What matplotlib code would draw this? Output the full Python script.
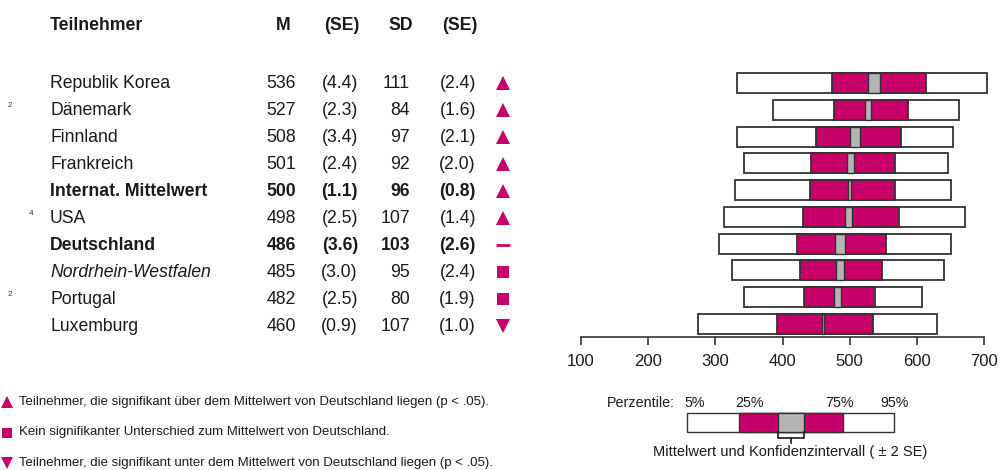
import matplotlib.pyplot as plt
import matplotlib.patches as mpatches
from matplotlib.transforms import blended_transform_factory

plt.rcParams['font.family'] = ['Liberation Sans', 'DejaVu Sans']

countries = ["Republik Korea", "Dänemark", "Finnland", "Frankreich", "Internat. Mittelwert",
             "USA", "Deutschland", "Nordrhein-Westfalen", "Portugal", "Luxemburg"]
footnotes = ["", "2", "", "", "", "4", "", "", "2", ""]
styles = ["normal", "normal", "normal", "normal", "bold", "normal", "bold", "italic", "normal", "normal"]
mean = [536, 527, 508, 501, 500, 498, 486, 485, 482, 460]
se = [4.4, 2.3, 3.4, 2.4, 1.1, 2.5, 3.6, 3.0, 2.5, 0.9]
sd = [111, 84, 97, 92, 96, 107, 103, 95, 80, 107]
sd_se = [2.4, 1.6, 2.1, 2.0, 0.8, 1.4, 2.6, 2.4, 1.9, 1.0]
signif = ["up", "up", "up", "up", "up", "up", "ref", "same", "same", "down"]
p5 = [332, 386, 332, 342, 330, 313, 305, 325, 342, 274]
p25 = [473, 476, 450, 442, 441, 430, 421, 426, 432, 392]
p75 = [613, 587, 576, 567, 567, 574, 554, 548, 537, 534]
p95 = [704, 663, 654, 647, 651, 671, 651, 640, 608, 630]

MAG = "#c8006a"
GREY = "#b4b4b4"
EDGE = "#333333"
TXT = "#1a1a1a"

fig = plt.figure(figsize=(10, 4.7), dpi=100)
ax = fig.add_axes([0.581, 0.283, 0.403, 0.589])

h = 0.75
for i in range(len(countries)):
    ax.barh(i, p95[i] - p5[i], left=p5[i], height=h, color="white", edgecolor=EDGE,
            linewidth=1.3, zorder=2, clip_on=False)
    ax.barh(i, p75[i] - p25[i], left=p25[i], height=h, color=MAG, edgecolor=EDGE,
            linewidth=1.3, zorder=3, clip_on=False)
    lo, hi = mean[i] - 2 * se[i], mean[i] + 2 * se[i]
    ax.barh(i, hi - lo, left=lo, height=h, color=GREY, edgecolor=EDGE, linewidth=1.0,
            zorder=4, clip_on=False)

ax.set_xlim(100, 700)
ax.set_ylim(9.49, -0.86)
ax.set_yticks([])
ax.set_xticks(range(100, 701, 100))
ax.tick_params(axis='x', labelsize=12, length=6, width=1.2, color=EDGE, pad=6, labelcolor=TXT)
for s in ["top", "left", "right"]:
    ax.spines[s].set_visible(False)
ax.spines["bottom"].set_linewidth(1.2)
ax.spines["bottom"].set_color(EDGE)
ax.patch.set_alpha(0)

tr = blended_transform_factory(fig.transFigure, ax.transData)
fs = 12.7
for i, name in enumerate(countries):
    y = i + 0.08 * i / 9
    weight = "bold" if styles[i] == "bold" else "normal"
    style = "italic" if styles[i] == "italic" else "normal"
    kw = dict(transform=tr, fontsize=fs, va="center", weight=weight, style=style, color=TXT)
    fig.text(0.050, y, name, ha="left", **kw)
    kw["style"] = "normal"
    fig.text(0.296, y, str(mean[i]), ha="right", **kw)
    fig.text(0.358, y, "(%.1f)" % se[i], ha="right", **kw)
    fig.text(0.410, y, str(sd[i]), ha="right", **kw)
    fig.text(0.476, y, "(%.1f)" % sd_se[i], ha="right", **kw)
    if footnotes[i]:
        fx0 = 0.031 if footnotes[i] == "4" else 0.010
        fig.text(fx0, y - 0.18, footnotes[i], transform=tr, fontsize=6, ha="center", va="center",
                 color="#333333")
    mk = {"up": "^", "down": "v", "same": "s", "ref": "_"}[signif[i]]
    ax.plot([0.503], [y], marker=mk, color=MAG, markersize=10 if mk != "s" else 8,
            markeredgewidth=2 if mk == "_" else 0, transform=tr, clip_on=False)

hy = 1 - 25 / 470
fig.text(0.050, hy, "Teilnehmer", fontsize=fs, weight="bold", ha="left", va="center", color=TXT)
for x, t in [(0.283, "M"), (0.342, "(SE)"), (0.401, "SD"), (0.460, "(SE)")]:
    fig.text(x, hy, t, fontsize=fs, weight="bold", ha="center", va="center", color=TXT)

# legend for significance symbols
leg = [("^", "Teilnehmer, die signifikant über dem Mittelwert von Deutschland liegen (p < .05)."),
       ("s", "Kein signifikanter Unterschied zum Mittelwert von Deutschland."),
       ("v", "Teilnehmer, die signifikant unter dem Mittelwert von Deutschland liegen (p < .05).")]
for k, (mk, txt) in enumerate(leg):
    y = 1 - (402 + 30.5 * k) / 470
    fig.lines.append(plt.Line2D([0.0065], [y], marker=mk, color=MAG, markersize=9 if mk != "s" else 7.5,
                                markeredgewidth=0, transform=fig.transFigure))
    fig.text(0.019, y, txt, fontsize=9.5, ha="left", va="center", color=TXT)


# percentile key
def fx(px):
    return px / 1000


def fy(py):
    return 1 - py / 470


ky0, ky1 = 413, 432
for a, b, c in [(687, 894, "white"), (739, 843, MAG), (778, 804, GREY)]:
    fig.patches.append(mpatches.Rectangle((fx(a), fy(ky1)), fx(b - a), (ky1 - ky0) / 470,
                                          facecolor=c, edgecolor=EDGE, linewidth=1.0,
                                          transform=fig.transFigure))
fig.text(fx(607), fy(403), "Perzentile:", fontsize=10.3, ha="left", va="center", color=TXT)
for x, t in [(695, "5%"), (749, "25%"), (840, "75%"), (895, "95%")]:
    fig.text(fx(x), fy(403), t, fontsize=10.3, ha="center", va="center", color=TXT)
bx = [fx(778), fx(778), fx(804), fx(804)]
by = [fy(432), fy(438), fy(438), fy(432)]
fig.lines.append(plt.Line2D(bx, by, color=TXT, linewidth=1.2, transform=fig.transFigure))
fig.lines.append(plt.Line2D([fx(791), fx(791)], [fy(438), fy(443)], color=TXT, linewidth=1.2,
                            transform=fig.transFigure))
fig.text(fx(790), fy(452), "Mittelwert und Konfidenzintervall ( ± 2 SE)", fontsize=10.5,
         ha="center", va="center", color=TXT)

fig.savefig("out.png", dpi=100)
